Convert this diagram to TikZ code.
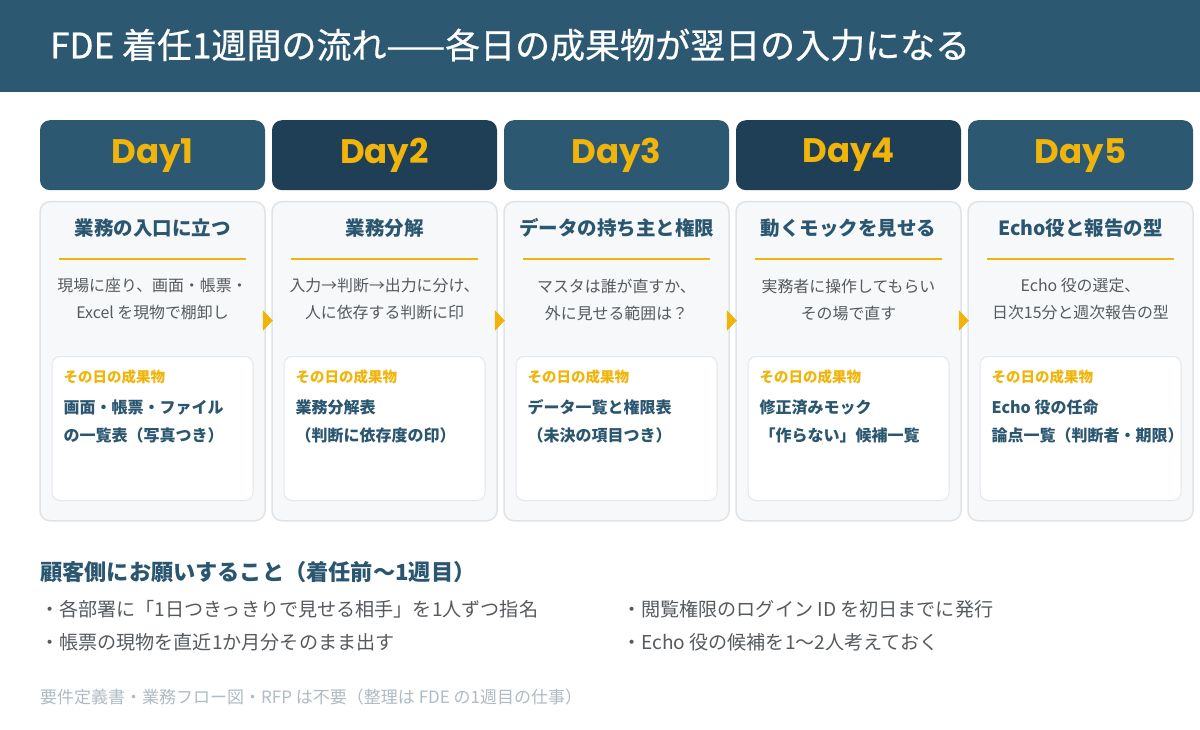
\documentclass[tikz,border=0pt]{standalone}
\usepackage{fontspec}
\setmainfont{Noto Sans CJK JP}
\newfontfamily\dayfont{Poppins}
\newfontfamily\titlefont[FakeBold=0.6]{Noto Sans CJK JP}
\usetikzlibrary{calc}
\definecolor{headbg}{HTML}{2C5872}
\definecolor{headdark}{HTML}{1F3F57}
\definecolor{gold}{HTML}{F0B40A}
\definecolor{tblue}{HTML}{2A5670}
\definecolor{dgray}{HTML}{555A5E}
\definecolor{cardbg}{HTML}{F6F8FA}
\definecolor{cardline}{HTML}{DFE4E8}
\definecolor{innerline}{HTML}{E3E8EC}
\definecolor{notegray}{HTML}{AFBBC5}
\newcommand{\fs}[2]{\fontsize{#1}{#2}\selectfont}
\begin{document}
\begin{tikzpicture}[x=1pt,y=-1pt,
  band/.style={fill=headbg,minimum width=1200pt,minimum height=92pt,inner sep=0pt,draw=none},
  titletext/.style={text=white,font=\titlefont\fs{35}{40},inner sep=0pt,anchor=west},
  dayhead/.style={rounded corners=10pt,minimum width=225pt,minimum height=70pt,inner sep=0pt,anchor=north,text=gold,font=\dayfont\bfseries\fs{34}{40}},
  card/.style={fill=cardbg,draw=cardline,line width=1.5pt,rounded corners=10pt,minimum width=225pt,minimum height=319pt,inner sep=0pt,anchor=north},
  cardtitle/.style={text=tblue,font=\bfseries\fs{19.5}{24},inner sep=0pt},
  goldline/.style={draw=gold,line width=2.5pt},
  desc/.style={text=dgray,font=\fs{15.9}{27},align=center,inner sep=0pt},
  inner/.style={fill=white,draw=innerline,line width=1pt,rounded corners=8pt,minimum width=201pt,minimum height=144pt,inner sep=0pt,anchor=north},
  lbl/.style={text=gold,font=\bfseries\fs{14.5}{18},inner sep=0pt,anchor=west},
  deliv/.style={text=tblue,font=\bfseries\fs{16}{28},align=left,inner sep=0pt,anchor=west},
  flowtip/.style={fill=gold},
  heading/.style={text=tblue,font=\bfseries\fs{22.2}{26},inner sep=0pt,anchor=west},
  bullet/.style={text=dgray,font=\fs{19.1}{22},inner sep=0pt,anchor=west},
  note/.style={text=notegray,font=\fs{17}{20},inner sep=0pt,anchor=west}]
\useasboundingbox (0,0) rectangle (1200,730);
\fill[white] (0,0) rectangle (1200,730);
\node[band] (band) at (600,46) {};
\node[titletext] (title) at (50,45) {FDE 着任1週間の流れ——各日の成果物が翌日の入力になる};
\foreach \i/\hc/\ttl/\da/\db/\oa/\ob in {
  1/headbg/{業務の入口に立つ}/{現場に座り、画面・帳票・}/{Excel を現物で棚卸し}/{画面・帳票・ファイル}/{の一覧表（写真つき）},
  2/headdark/{業務分解}/{入力→判断→出力に分け、}/{人に依存する判断に印}/{業務分解表}/{（判断に依存度の印）},
  3/headbg/{データの持ち主と権限}/{マスタは誰が直すか、}/{外に見せる範囲は？}/{データ一覧と権限表}/{（未決の項目つき）},
  4/headdark/{動くモックを見せる}/{実務者に操作してもらい}/{その場で直す}/{修正済みモック}/{「作らない」候補一覧},
  5/headbg/{Echo役と報告の型}/{Echo 役の選定、}/{日次15分と週次報告の型}/{Echo 役の任命}/{論点一覧（判断者・期限）}}{
  \pgfmathsetmacro\cx{152.5+(\i-1)*232}
  \node[dayhead,fill=\hc] (dh\i) at (\cx,120) {Day\i};
  \node[card] (card\i) at (\cx,201) {};
  \node[cardtitle] (ct\i) at (\cx,228) {\ttl};
  \draw[goldline] ($(card\i.north west)+(20,58)$) -- ($(card\i.north east)+(-20,58)$);
  \node[desc] (ds\i) at (\cx,299.5) {\da\\\db};
  \node[inner] (in\i) at (\cx,356) {};
  \node[lbl] (lb\i) at ($(in\i.north west)+(12,21)$) {その日の成果物};
  \node[deliv] (dv\i) at ($(in\i.north west)+(12,65)$) {\oa\\\ob};
}
\foreach \i in {1,2,3,4}{
  \fill[flowtip] ($(card\i.north east)+(-3,109)$) -- ++(10,10.5) -- ++(-10,10.5) -- cycle;
}
\node[heading] (hd) at (40,572) {顧客側にお願いすること（着任前〜1週目）};
\node[bullet] (b1) at (40,609) {・各部署に「1日つきっきりで見せる相手」を1人ずつ指名};
\node[bullet] (b2) at (40,642) {・帳票の現物を直近1か月分そのまま出す};
\node[bullet] (b3) at (622,609) {・閲覧権限のログイン ID を初日までに発行};
\node[bullet] (b4) at (622,642) {・Echo 役の候補を1〜2人考えておく};
\node[note] (nt) at (40,697) {要件定義書・業務フロー図・RFP は不要（整理は FDE の1週目の仕事）};
\end{tikzpicture}
\end{document}
